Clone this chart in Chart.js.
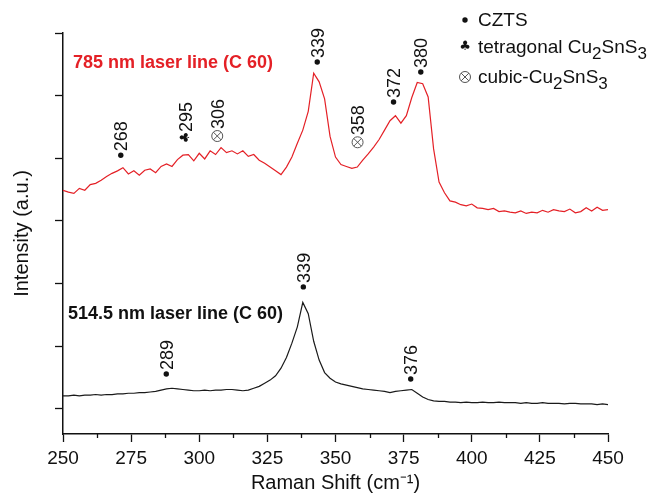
<!DOCTYPE html>
<html>
<head>
<meta charset="utf-8">
<script src="https://cdn.jsdelivr.net/npm/chart.js@4.4.1/dist/chart.umd.min.js"></script>
<style>
  html, body { margin: 0; padding: 0; background: #fff; }
  #wrap { width: 654px; height: 496px; }
</style>
</head>
<body>
<div id="wrap"><canvas id="ramanChart"></canvas></div>
<script>
// Raman shift (cm-1) and the two spectra
const ramanShift = [
  250, 252, 254, 256, 258, 260, 262, 264, 266, 268,
  270, 272, 274, 276, 278, 280, 282, 284, 286, 288,
  290, 292, 294, 296, 298, 300, 302, 304, 306, 308,
  310, 312, 314, 316, 318, 320, 322, 324, 326, 328,
  330, 332, 334, 336, 338, 340, 342, 344, 346, 348,
  350, 352, 354, 356, 358, 360, 362, 364, 366, 368,
  370, 372, 374, 376, 378, 380, 382, 384, 386, 388,
  390, 392, 394, 396, 398, 400, 402, 404, 406, 408,
  410, 412, 414, 416, 418, 420, 422, 424, 426, 428,
  430, 432, 434, 436, 438, 440, 442, 444, 446, 448,
  450
];
const intensity785 = [
  3.49, 3.46, 3.44, 3.52, 3.49, 3.58, 3.60, 3.65, 3.71, 3.76,
  3.80, 3.85, 3.75, 3.80, 3.73, 3.81, 3.83, 3.77, 3.87, 3.91,
  3.87, 3.98, 4.05, 4.06, 3.96, 4.08, 3.99, 4.12, 4.06, 4.17,
  4.09, 4.12, 4.07, 4.12, 4.03, 4.06, 3.97, 3.92, 3.86, 3.80,
  3.74, 3.86, 4.02, 4.24, 4.45, 4.75, 5.36, 5.22, 4.95, 4.35,
  4.02, 3.90, 3.87, 3.84, 3.86, 3.97, 4.07, 4.18, 4.30, 4.45,
  4.60, 4.68, 4.56, 4.68, 4.97, 5.21, 5.19, 4.98, 4.15, 3.62,
  3.45, 3.32, 3.30, 3.26, 3.24, 3.27, 3.21, 3.20, 3.18, 3.20,
  3.15, 3.16, 3.14, 3.13, 3.16, 3.12, 3.14, 3.13, 3.17, 3.14,
  3.18, 3.16, 3.15, 3.19, 3.13, 3.15, 3.21, 3.16, 3.22, 3.17,
  3.18
];
const intensity514 = [
  0.21, 0.21, 0.22, 0.21, 0.22, 0.22, 0.23, 0.22, 0.23, 0.23,
  0.24, 0.24, 0.25, 0.25, 0.26, 0.26, 0.27, 0.28, 0.30, 0.32,
  0.33, 0.32, 0.31, 0.30, 0.29, 0.29, 0.30, 0.29, 0.30, 0.30,
  0.31, 0.31, 0.30, 0.29, 0.30, 0.33, 0.36, 0.41, 0.46, 0.53,
  0.65, 0.82, 1.05, 1.31, 1.70, 1.52, 1.08, 0.78, 0.58, 0.49,
  0.43, 0.40, 0.38, 0.36, 0.34, 0.32, 0.31, 0.30, 0.29, 0.28,
  0.26, 0.28, 0.29, 0.30, 0.31, 0.25, 0.19, 0.15, 0.13, 0.12,
  0.12, 0.11, 0.11, 0.10, 0.11, 0.10, 0.10, 0.11, 0.10, 0.10,
  0.11, 0.10, 0.10, 0.10, 0.09, 0.10, 0.09, 0.09, 0.10, 0.09,
  0.09, 0.09, 0.08, 0.09, 0.09, 0.08, 0.08, 0.08, 0.07, 0.08,
  0.07
];

const xTicks = [250, 275, 300, 325, 350, 375, 400, 425, 450];
const yTicks = [0, 1, 2, 3, 4, 5, 6];

// peak assignments: label text and phase
const peaks785 = ['268', '295', '306', '339', '358', '372', '380'];
const phases785 = ['CZTS', 'tet', 'cub', 'CZTS', 'cub', 'CZTS', 'CZTS'];
const peaks514 = ['289', '339', '376'];
const phases514 = ['CZTS', 'CZTS', 'CZTS'];

// where each rotated label starts, in data units [shift, intensity]
const anchors785 = [[271.2, 4.0], [294.9, 4.26], [306.6, 4.26], [343.3, 5.49], [358.1, 4.16], [371.3, 4.85], [381.3, 5.33]];
const anchors514 = [[287.9, 0.51], [338.2, 1.90], [377.6, 0.43]];

const FONT = '"Liberation Sans", Arial, Helvetica, sans-serif';
const RED = 'rgb(228, 32, 38)';
const INK = '#111';

// phase symbols drawn centred on (0,0) of current transform
function drawSymbol(ctx, phase) {
  ctx.save();
  if (phase === 'CZTS') {
    ctx.fillStyle = INK;
    ctx.beginPath();
    ctx.arc(0, 0, 2.7, 0, Math.PI * 2);
    ctx.fill();
  } else if (phase === 'cub') {
    ctx.strokeStyle = '#555';
    ctx.lineWidth = 1;
    ctx.beginPath();
    ctx.arc(0, 0, 5.5, 0, Math.PI * 2);
    ctx.stroke();
    const d = 3.9;
    ctx.beginPath();
    ctx.moveTo(-d, -d); ctx.lineTo(d, d);
    ctx.moveTo(d, -d); ctx.lineTo(-d, d);
    ctx.stroke();
  } else {
    ctx.fillStyle = INK;
    ctx.font = '13px ' + '"DejaVu Sans", sans-serif';
    ctx.textAlign = 'center';
    ctx.textBaseline = 'middle';
    ctx.fillText('\u2663', 0, 0);
  }
  ctx.restore();
}

function symbolWidth(phase) {
  return phase === 'cub' ? 12 : (phase === 'tet' ? 9 : 6);
}

// text with subscripts: parts = [[text, isSub], ...]
function drawRich(ctx, x, y, parts, size) {
  let cx = x;
  parts.forEach(([t, sub]) => {
    ctx.font = (sub ? size - 2 : size) + 'px ' + FONT;
    ctx.fillText(t, cx, sub ? y + 6 : y);
    cx += ctx.measureText(t).width;
  });
}

const annotationPlugin = {
  id: 'ramanNotes',
  afterDatasetsDraw(chart) {
    const ctx = chart.ctx;
    const xs = chart.scales.x, ys = chart.scales.y;
    const fs = 18;

    function peakLabels(labels, phases, anchors) {
      labels.forEach((txt, i) => {
        const px = xs.getPixelForValue(anchors[i][0]);
        const py = ys.getPixelForValue(anchors[i][1]);
        ctx.save();
        ctx.translate(px, py);
        ctx.rotate(-Math.PI / 2);
        const w = symbolWidth(phases[i]);
        ctx.save();
        ctx.translate(w / 2, 0);
        drawSymbol(ctx, phases[i]);
        ctx.restore();
        ctx.fillStyle = INK;
        ctx.font = fs + 'px ' + FONT;
        ctx.textAlign = 'left';
        ctx.textBaseline = 'alphabetic';
        ctx.fillText(txt, w + 1, fs * 0.36);
        ctx.restore();
      });
    }
    peakLabels(peaks785, phases785, anchors785);
    peakLabels(peaks514, phases514, anchors514);

    // spectrum captions
    ctx.save();
    ctx.textAlign = 'left';
    ctx.textBaseline = 'alphabetic';
    ctx.font = 'bold 18px ' + FONT;
    ctx.fillStyle = RED;
    ctx.fillText('785 nm laser line (C 60)', 73, 68);
    ctx.fillStyle = INK;
    ctx.fillText('514.5 nm laser line (C 60)', 68, 319);

    // legend of phases
    ctx.fillStyle = INK;
    const lx = 465, tx = 478;
    ctx.save(); ctx.translate(lx, 20); drawSymbol(ctx, 'CZTS'); ctx.restore();
    drawRich(ctx, tx, 26, [['CZTS', false]], 19);
    ctx.save(); ctx.translate(lx, 47); drawSymbol(ctx, 'tet'); ctx.restore();
    drawRich(ctx, tx, 53, [['tetragonal Cu', false], ['2', true], ['SnS', false], ['3', true]], 19);
    ctx.save(); ctx.translate(lx, 77); drawSymbol(ctx, 'cub'); ctx.restore();
    drawRich(ctx, tx, 83, [['cubic-Cu', false], ['2', true], ['SnS', false], ['3', true]], 19);
    ctx.restore();
  },
  afterDraw(chart) {
    // minor ticks on the shift axis
    const ctx = chart.ctx, xs = chart.scales.x;
    const y0 = chart.chartArea.bottom;
    ctx.save();
    ctx.strokeStyle = INK;
    ctx.lineWidth = 1.3;
    for (let i = 0; i < xTicks.length - 1; i++) {
      const px = Math.round(xs.getPixelForValue((xTicks[i] + xTicks[i + 1]) / 2)) + 0.5;
      ctx.beginPath();
      ctx.moveTo(px, y0);
      ctx.lineTo(px, y0 + 4);
      ctx.stroke();
    }
    ctx.restore();
  }
};

new Chart(document.getElementById('ramanChart'), {
  type: 'line',
  data: {
    datasets: [
      {
        label: '785 nm laser line (C 60)',
        data: ramanShift.map((x, i) => ({ x: x, y: intensity785[i] })),
        borderColor: RED,
        borderWidth: 1.2,
        pointRadius: 0,
        tension: 0
      },
      {
        label: '514.5 nm laser line (C 60)',
        data: ramanShift.map((x, i) => ({ x: x, y: intensity514[i] })),
        borderColor: '#1a1a1a',
        borderWidth: 1.2,
        pointRadius: 0,
        tension: 0
      }
    ]
  },
  options: {
    responsive: true,
    maintainAspectRatio: false,
    animation: false,
    layout: { padding: { top: 33, right: 46, left: 0, bottom: 0 } },
    plugins: {
      legend: { display: false },
      tooltip: { enabled: false }
    },
    scales: {
      x: {
        type: 'linear',
        min: 250,
        max: 450,
        afterBuildTicks: s => { s.ticks = xTicks.map(v => ({ value: v })); },
        afterFit: s => { s.height = 62; },
        ticks: { font: { family: FONT, size: 19 }, color: INK, padding: 5, maxRotation: 0 },
        grid: { drawOnChartArea: false, tickLength: 8, color: INK, tickWidth: 1.3 },
        border: { color: INK, width: 1.5 },
        title: {
          display: true,
          text: 'Raman Shift (cm\u207B\u00B9)',
          font: { family: FONT, size: 20 },
          color: INK,
          padding: { top: 0, bottom: 1 }
        }
      },
      y: {
        min: -0.4,
        max: 6,
        afterBuildTicks: s => { s.ticks = yTicks.map(v => ({ value: v })); },
        afterFit: s => { s.width = 63; },
        ticks: { display: false },
        grid: { drawOnChartArea: false, tickLength: 8, color: INK, tickWidth: 1.3 },
        border: { color: INK, width: 1.5 },
        title: {
          display: true,
          text: 'Intensity (a.u.)',
          font: { family: FONT, size: 20 },
          color: INK,
          padding: { top: 10, bottom: 0 }
        }
      }
    }
  },
  plugins: [annotationPlugin]
});
</script>
</body>
</html>
